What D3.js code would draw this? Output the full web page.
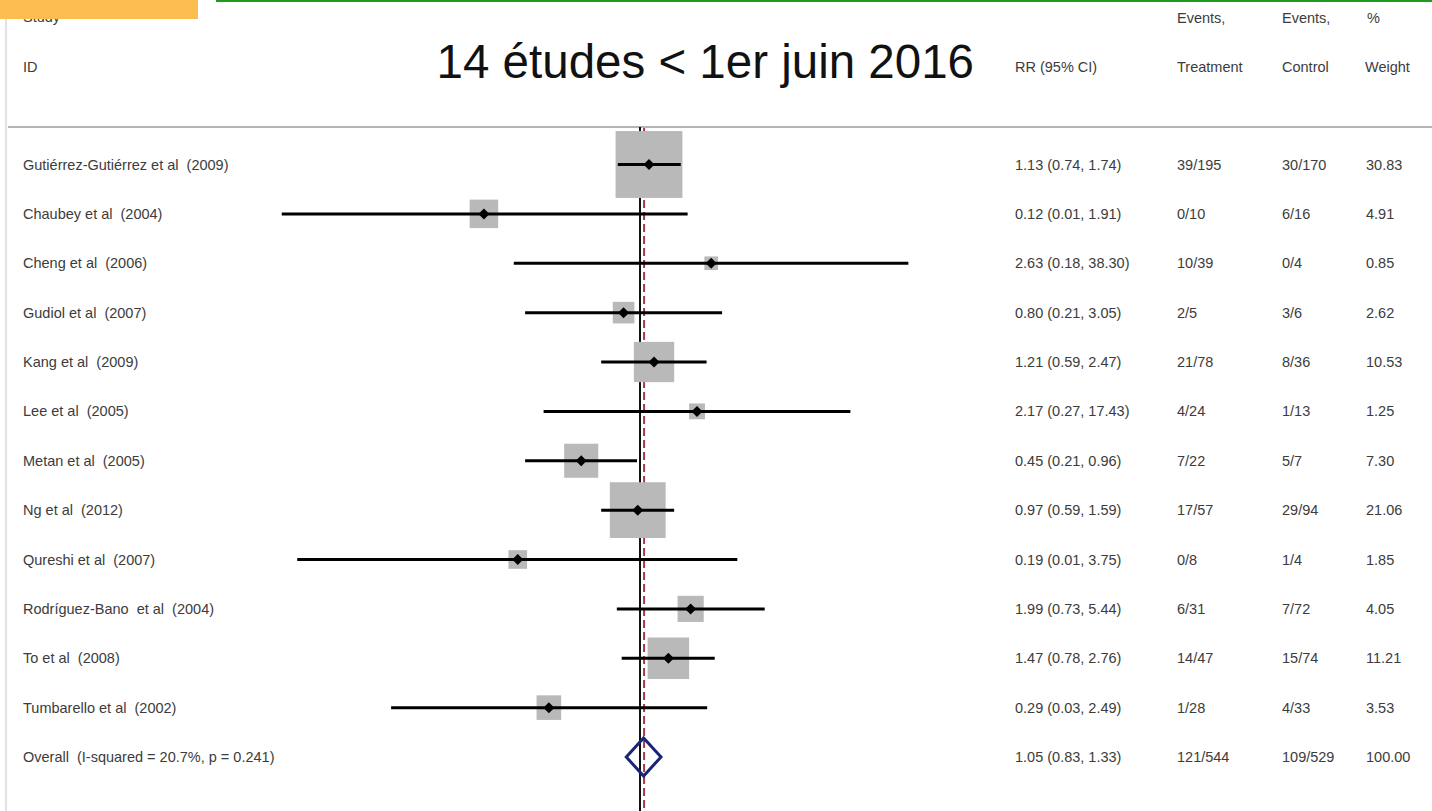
<!DOCTYPE html>
<html lang="fr">
<head>
  <meta charset="UTF-8">
  <script src="https://d3js.org/d3.v7.min.js"></script>
  <style>
    body {
      margin: 0;
      padding: 0;
      background: #fff;
      overflow: hidden;
    }
    text {
      font-family: "Liberation Sans", Arial, sans-serif;
      white-space: pre;
    }
    .cell {
      font-size: 14.5px;
      fill: #3c3c3c;
    }
  </style>
</head>
<body>
  <div id="chart"></div>

  <script>
    // study rows
    const studies = [
      "Gutiérrez-Gutiérrez et al  (2009)", "Chaubey et al  (2004)", "Cheng et al  (2006)",
      "Gudiol et al  (2007)", "Kang et al  (2009)", "Lee et al  (2005)", "Metan et al  (2005)",
      "Ng et al  (2012)", "Qureshi et al  (2007)", "Rodríguez-Bano  et al  (2004)",
      "To et al  (2008)", "Tumbarello et al  (2002)"
    ];
    const rr = [1.13, 0.12, 2.63, 0.80, 1.21, 2.17, 0.45, 0.97, 0.19, 1.99, 1.47, 0.29];
    const lo = [0.74, 0.0077, 0.18, 0.21, 0.59, 0.27, 0.21, 0.59, 0.0095, 0.73, 0.78, 0.034];
    const hi = [1.74, 1.91, 38.30, 3.05, 2.47, 17.43, 0.96, 1.59, 3.75, 5.44, 2.76, 2.49];
    const treatment = ["39/195", "0/10", "10/39", "2/5", "21/78", "4/24", "7/22", "17/57", "0/8", "6/31", "14/47", "1/28"];
    const control = ["30/170", "6/16", "0/4", "3/6", "8/36", "1/13", "5/7", "29/94", "1/4", "7/72", "15/74", "4/33"];
    const weight = [30.83, 4.91, 0.85, 2.62, 10.53, 1.25, 7.30, 21.06, 1.85, 4.05, 11.21, 3.53];

    // pooled estimate
    const overallLabel = "Overall  (I-squared = 20.7%, p = 0.241)";
    const overall = { rr: 1.05, lo: 0.83, hi: 1.33, treatment: "121/544", control: "109/529", weight: 100.00 };

    const title = "14 études < 1er juin 2016";

    const width = 1432, height = 811;
    const f2 = d3.format(".2f");

    const svg = d3.select("#chart")
      .append("svg")
      .attr("width", width)
      .attr("height", height);

    const rows = studies.concat([overallLabel]);

    const x = d3.scaleLog().domain([0.01, 100]).range([301, 979]);
    const y = d3.scalePoint().domain(rows).range([164.5, 757]);
    const side = d3.scaleSqrt().domain([0, 100]).range([3, 118]);

    // header (drawn first, the orange tab covers the top of "Study")
    const head = [
      { t: "Study", x: 23, y: 17 }, { t: "ID", x: 23, y: 67 },
      { t: "RR (95% CI)", x: 1015, y: 67 },
      { t: "Events,", x: 1177, y: 18 }, { t: "Treatment", x: 1177, y: 67 },
      { t: "Events,", x: 1282, y: 18 }, { t: "Control", x: 1282, y: 67 },
      { t: "%", x: 1367, y: 18 }, { t: "Weight", x: 1365, y: 67 }
    ];
    svg.append("g").selectAll("text").data(head).enter().append("text")
      .attr("class", "cell")
      .attr("x", d => d.x).attr("y", d => d.y).attr("dy", "0.35em")
      .text(d => d.t);

    // frame bits
    svg.append("rect").attr("x", 0).attr("y", 0).attr("width", 198).attr("height", 19).attr("fill", "#fbbc50");
    svg.append("line").attr("x1", 216).attr("x2", width).attr("y1", 1).attr("y2", 1)
      .attr("stroke", "#1e9a1e").attr("stroke-width", 2);
    svg.append("line").attr("x1", 6).attr("x2", 6).attr("y1", 19).attr("y2", height)
      .attr("stroke", "#e2e2e2").attr("stroke-width", 2);
    svg.append("line").attr("x1", 8).attr("x2", width).attr("y1", 127).attr("y2", 127)
      .attr("stroke", "#b4b4b4").attr("stroke-width", 2);

    svg.append("text")
      .attr("x", 974).attr("y", 78)
      .attr("text-anchor", "end")
      .attr("font-size", 47.5)
      .attr("fill", "#111")
      .text(title);

    // reference lines
    svg.append("line").attr("x1", x(1)).attr("x2", x(1)).attr("y1", 127).attr("y2", height)
      .attr("stroke", "#111").attr("stroke-width", 2);
    svg.append("line").attr("x1", x(overall.rr) + 0.5).attr("x2", x(overall.rr) + 0.5).attr("y1", 128).attr("y2", height)
      .attr("stroke", "#a33a48").attr("stroke-width", 2).attr("stroke-dasharray", "8,4");

    const data = studies.map((s, i) => ({ s, rr: rr[i], lo: lo[i], hi: hi[i], t: treatment[i], c: control[i], w: weight[i] }));

    const g = svg.append("g");

    g.selectAll("rect.box").data(data).enter().append("rect")
      .attr("class", "box")
      .attr("x", d => x(d.rr) - side(d.w) / 2)
      .attr("y", d => y(d.s) - side(d.w) / 2)
      .attr("width", d => side(d.w))
      .attr("height", d => side(d.w))
      .attr("fill", "#b9b9b9");

    g.selectAll("line.ci").data(data).enter().append("line")
      .attr("class", "ci")
      .attr("x1", d => x(d.lo)).attr("x2", d => x(d.hi))
      .attr("y1", d => y(d.s)).attr("y2", d => y(d.s))
      .attr("stroke", "#000").attr("stroke-width", 3);

    g.selectAll("path.pt").data(data).enter().append("path")
      .attr("class", "pt")
      .attr("d", d => {
        const cx = x(d.rr), cy = y(d.s), r = 5.5;
        return `M${cx - r},${cy}L${cx},${cy - r}L${cx + r},${cy}L${cx},${cy + r}Z`;
      })
      .attr("fill", "#000");

    // overall diamond
    const oy = y(overallLabel), oh = 19;
    svg.append("path")
      .attr("d", `M${x(overall.lo)},${oy}L${x(overall.rr)},${oy - oh}L${x(overall.hi)},${oy}L${x(overall.rr)},${oy + oh}Z`)
      .attr("fill", "none")
      .attr("stroke", "#1b2477")
      .attr("stroke-width", 3);

    // table columns
    const table = data.concat([{ s: overallLabel, rr: overall.rr, lo: overall.lo, hi: overall.hi, t: overall.treatment, c: overall.control, w: overall.weight }]);

    const cols = [
      { x: 23, f: d => d.s },
      { x: 1015, f: d => `${f2(d.rr)} (${f2(d.lo)}, ${f2(d.hi)})` },
      { x: 1177, f: d => d.t },
      { x: 1282, f: d => d.c },
      { x: 1366, f: d => f2(d.w) }
    ];

    cols.forEach(col => {
      svg.append("g").selectAll("text").data(table).enter().append("text")
        .attr("class", "cell")
        .attr("x", col.x)
        .attr("y", d => y(d.s))
        .attr("dy", "0.35em")
        .text(col.f);
    });
  </script>
</body>
</html>
